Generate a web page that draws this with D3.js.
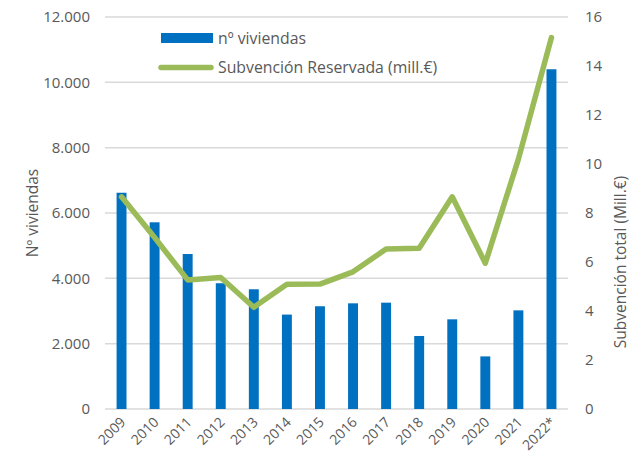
<!DOCTYPE html>
<html>
<head>
<meta charset="utf-8">
<script src="https://cdn.jsdelivr.net/npm/d3@7"></script>
<style>
  body { margin: 0; background: #fff; }
  text { font-family: "Open Sans", sans-serif; fill: #595959; }
</style>
</head>
<body>
<div id="chart"></div>
<script>
// data
const years = ["2009", "2010", "2011", "2012", "2013", "2014", "2015", "2016", "2017", "2018", "2019", "2020", "2021", "2022*"];
const viviendas = [6620, 5715, 4745, 3850, 3665, 2890, 3145, 3235, 3255, 2235, 2745, 1610, 3020, 10400];
const subvencion = [8.66, 7.0, 5.27, 5.37, 4.15, 5.09, 5.1, 5.6, 6.53, 6.56, 8.66, 5.95, 10.2, 15.16];
const leftTicks = [0, 2000, 4000, 6000, 8000, 10000, 12000];
const rightTicks = [0, 2, 4, 6, 8, 10, 12, 14, 16];

let width = 643,
    height = 462,
    margin = ({ top: 17, right: 75, bottom: 53, left: 105 });

const svg = d3.select("#chart")
    .append("svg")
    .attr("width", width)
    .attr("height", height);

let x = d3.scaleBand()
    .domain(years)
    .range([margin.left, width - margin.right])
    .paddingInner(0.7)
    .paddingOuter(0.35);

let y = d3.scaleLinear()
    .domain([0, 12000])
    .range([height - margin.bottom, margin.top]);

let y2 = d3.scaleLinear()
    .domain([0, 16])
    .range([height - margin.bottom, margin.top]);

const fmt = d3.format(",");
const esFmt = d => fmt(d).replace(/,/g, ".");

// gridlines
svg.append("g")
    .selectAll("line")
    .data(leftTicks)
    .join("line")
    .attr("x1", margin.left)
    .attr("x2", width - margin.right)
    .attr("y1", d => y(d))
    .attr("y2", d => y(d))
    .attr("stroke", "#d9d9d9")
    .attr("stroke-width", 1.5);

// left axis
let yAxis = svg.append("g")
    .attr("transform", `translate(${margin.left},0)`)
    .call(d3.axisLeft(y).tickValues(leftTicks).tickFormat(esFmt).tickSize(0).tickPadding(15));
yAxis.select(".domain").remove();
yAxis.selectAll("text").style("font-size", "15px").attr("fill", "#595959");

// right axis
let y2Axis = svg.append("g")
    .attr("transform", `translate(${width - margin.right},0)`)
    .call(d3.axisRight(y2).tickValues(rightTicks).tickSize(0).tickPadding(17));
y2Axis.select(".domain").remove();
y2Axis.selectAll("text").style("font-size", "15px").attr("fill", "#595959");

// bars
svg.append("g")
    .selectAll("rect")
    .data(viviendas)
    .join("rect")
    .attr("x", (d, i) => x(years[i]))
    .attr("width", x.bandwidth())
    .attr("y", d => y(d))
    .attr("height", d => y(0) - y(d))
    .attr("fill", "#0070c0");

// x labels
svg.append("g")
    .selectAll("text")
    .data(years)
    .join("text")
    .attr("text-anchor", "end")
    .attr("transform", d => `translate(${x(d) + x.bandwidth() / 2 + 5},${height - margin.bottom + 14}) rotate(-45)`)
    .style("font-size", "14px")
    .text(d => d);

// line
let line = d3.line()
    .x((d, i) => x(years[i]) + x.bandwidth() / 2)
    .y(d => y2(d));

svg.append("path")
    .datum(subvencion)
    .attr("d", line)
    .attr("fill", "none")
    .attr("stroke", "#9bbb59")
    .attr("stroke-width", 5.5)
    .attr("stroke-linejoin", "round")
    .attr("stroke-linecap", "round");

// axis titles
svg.append("text")
    .attr("text-anchor", "middle")
    .attr("transform", `translate(38,${(margin.top + height - margin.bottom) / 2}) rotate(-90)`)
    .style("font-size", "15.5px")
    .text("Nº viviendas");

svg.append("text")
    .attr("text-anchor", "middle")
    .attr("transform", `translate(626,262) rotate(-90)`)
    .style("font-size", "15.5px")
    .text("Subvención total (Mill.€)");

// legend
const legend = svg.append("g");
legend.append("rect")
    .attr("x", 161).attr("y", 33)
    .attr("width", 52).attr("height", 10)
    .attr("fill", "#0070c0");
legend.append("text")
    .attr("x", 218).attr("y", 44)
    .style("font-size", "15.8px")
    .text("nº viviendas");
legend.append("line")
    .attr("x1", 161).attr("x2", 211)
    .attr("y1", 67.5).attr("y2", 67.5)
    .attr("stroke", "#9bbb59")
    .attr("stroke-width", 5.5)
    .attr("stroke-linecap", "round");
legend.append("text")
    .attr("x", 218).attr("y", 73)
    .style("font-size", "15.8px")
    .text("Subvención Reservada (mill.€)");
</script>
</body>
</html>
